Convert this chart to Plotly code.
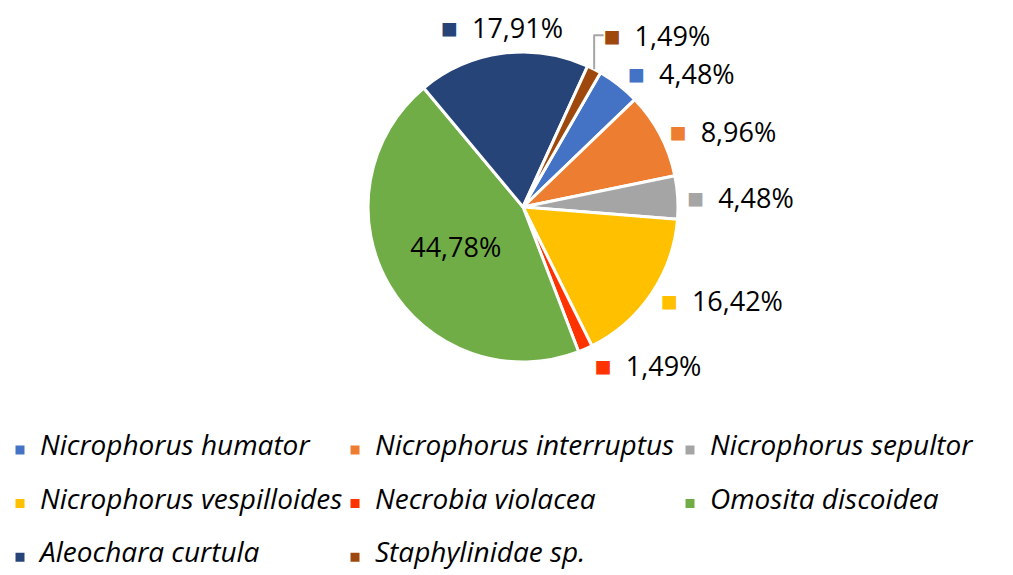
import math
import plotly.graph_objects as go

species = ["Nicrophorus humator", "Nicrophorus interruptus", "Nicrophorus sepultor",
           "Nicrophorus vespilloides", "Necrobia violacea", "Omosita discoidea",
           "Aleochara curtula", "Staphylinidae sp."]
percent = [4.48, 8.96, 4.48, 16.42, 1.49, 44.78, 17.91, 1.49]
colors = ["#4472C4", "#ED7D31", "#A5A5A5", "#FFC000", "#FF3300", "#70AD47", "#264478", "#9E480E"]
# how each slice label is drawn: pie's own outside/inside text, or an annotation
label_pos = ["outside", "outside", "outside", "outside", "outside", "inside", "annot", "outside"]

FONT = "Open Sans"
W, H = 1013, 575
ROT = 30
DOM_X = [0.3633, 0.6693]
DOM_Y = [0.3704, 0.9096]


def fmt(p):
    return f"{p:.2f}".replace(".", ",") + "%"


def outside_label(p, c):
    return (f"<span style='color:{c};font-size:28px'>■</span>  "
            f"<span style='color:black'>{fmt(p)}</span>")


texts, positions = [], []
for p, c, pos in zip(percent, colors, label_pos):
    if pos == "outside":
        texts.append(outside_label(p, c)); positions.append("outside")
    elif pos == "inside":
        texts.append(fmt(p)); positions.append("inside")
    else:
        texts.append(""); positions.append("none")

legend_names = [f" <br><span style='font-size:28px'><i>{s}</i></span><br> " for s in species]

fig = go.Figure(go.Pie(
    labels=legend_names,
    values=percent,
    text=texts,
    textinfo="text",
    textposition=positions,
    sort=False,
    direction="clockwise",
    rotation=ROT,
    marker=dict(colors=colors, line=dict(color="white", width=3)),
    textfont=dict(family=FONT, size=27, color="black"),
    outsidetextfont=dict(family=FONT, size=27, color="#A6A6A6"),
    insidetextfont=dict(family=FONT, size=27, color="black"),
    insidetextorientation="horizontal",
    domain=dict(x=DOM_X, y=DOM_Y),
    hoverinfo="skip",
))

# annotation labels placed from the slice mid-angle (derived from the data)
total = sum(percent)
cx = (DOM_X[0] + DOM_X[1]) / 2 * W
cy = (1 - (DOM_Y[0] + DOM_Y[1]) / 2) * H
R = min((DOM_X[1] - DOM_X[0]) * W, (DOM_Y[1] - DOM_Y[0]) * H) / 2
cum = 0.0
for p, c, pos in zip(percent, colors, label_pos):
    mid = math.radians(ROT + (cum + p / 2) / total * 360)
    cum += p
    if pos != "annot":
        continue
    ux, uy = math.sin(mid), -math.cos(mid)
    px = cx + (R + 5) * ux
    py = cy + (R + 5) * uy
    fig.add_annotation(
        x=px / W, y=1 - py / H, xref="paper", yref="paper",
        xanchor="center" if abs(ux) < 0.3 else ("left" if ux > 0 else "right"),
        yanchor="middle" if abs(uy) < 0.3 else ("top" if uy > 0 else "bottom"),
        text=outside_label(p, c), showarrow=False,
        font=dict(family=FONT, size=27, color="black"),
    )

fig.update_layout(
    width=W, height=H,
    margin=dict(l=0, r=0, t=0, b=0, autoexpand=False),
    paper_bgcolor="white",
    font=dict(family=FONT, color="black"),
    legend=dict(
        orientation="h", x=0.0, xanchor="left", y=0.273, yanchor="top",
        font=dict(family=FONT, size=13, color="black"),
        entrywidth=290, entrywidthmode="pixels",
        traceorder="normal",
    ),
    showlegend=True,
)

fig.write_html("out.html", config={"displayModeBar": False},
               post_script="document.body.style.margin='0';")
